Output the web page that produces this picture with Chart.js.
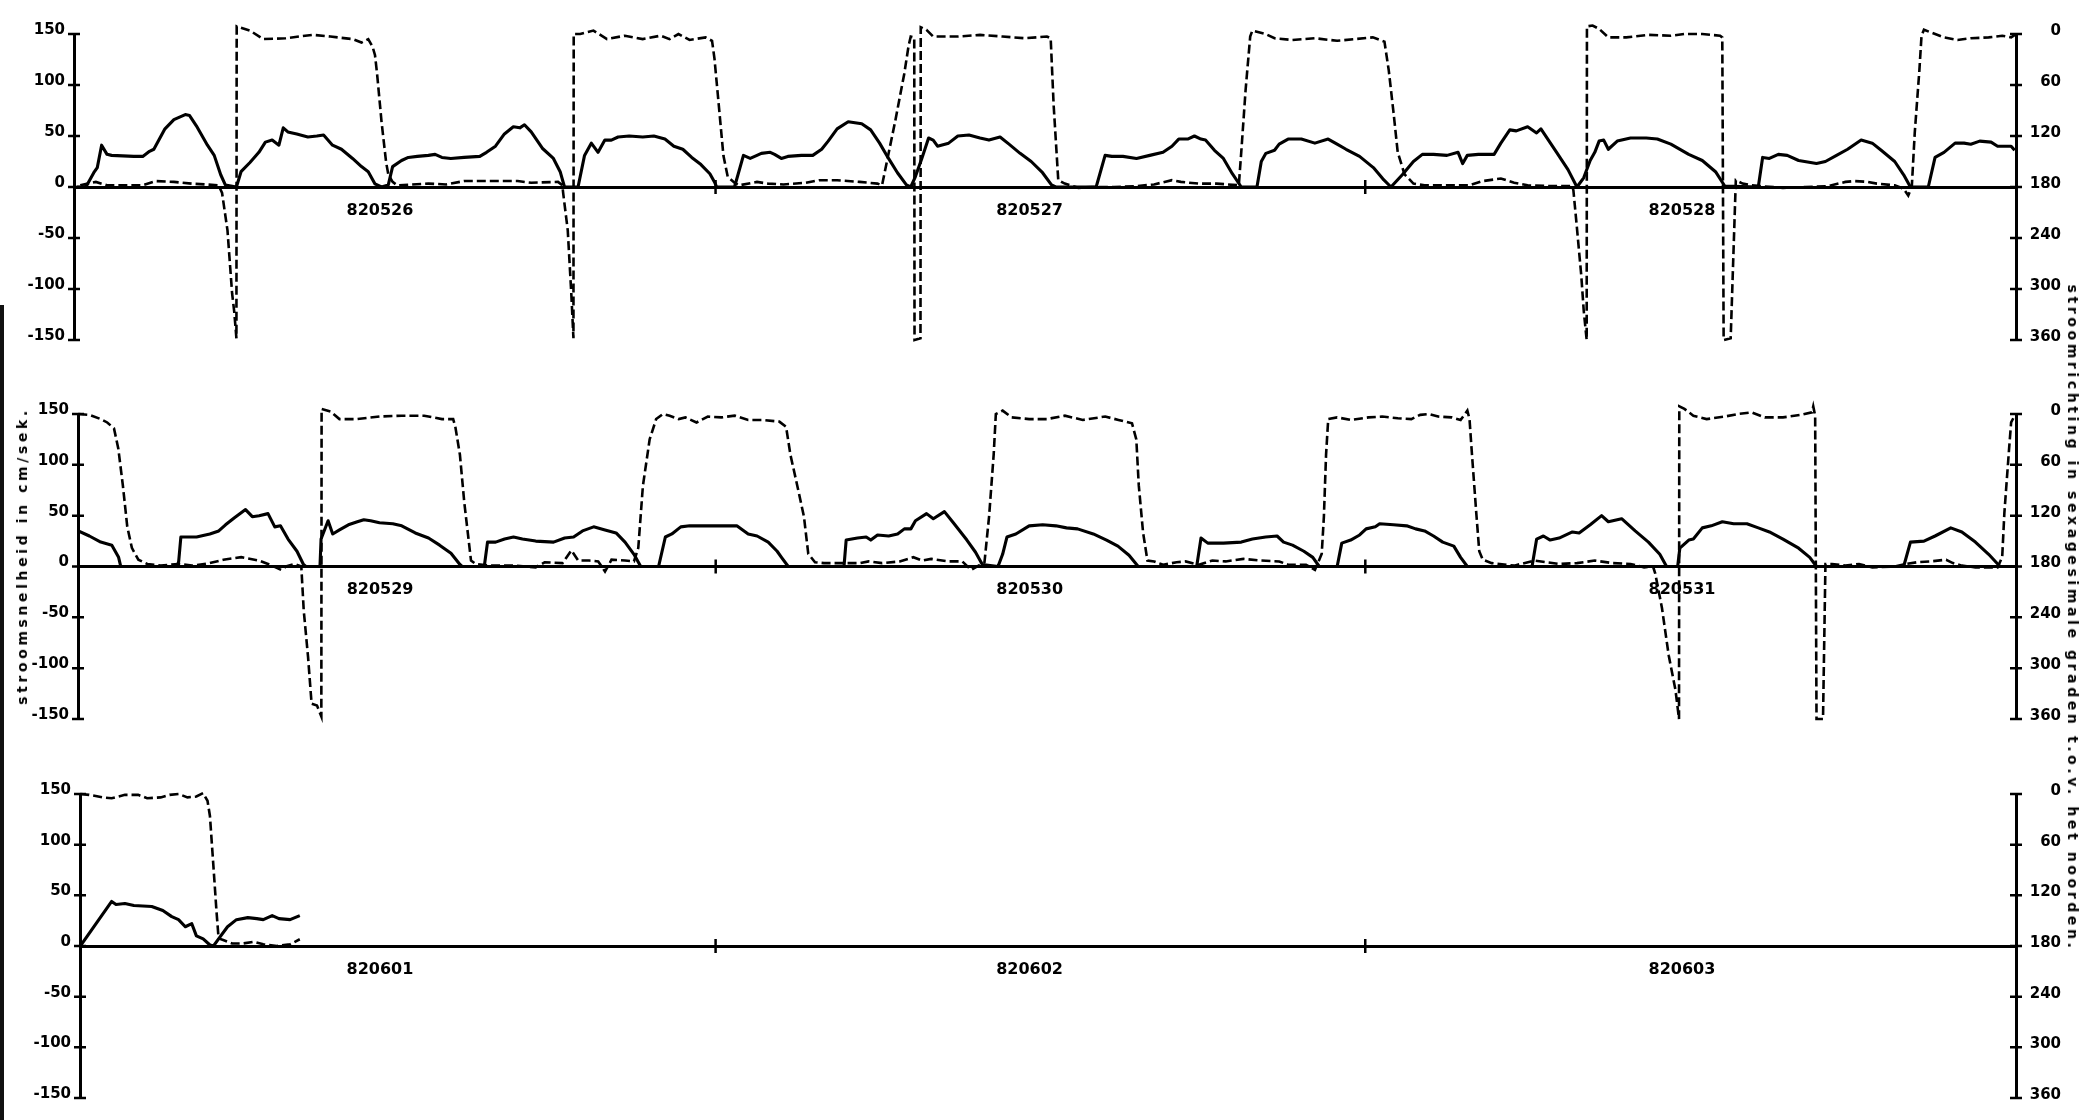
<!DOCTYPE html>
<html>
<head>
<meta charset="utf-8">
<title>stroomsnelheid en stroomrichting 820526 - 820603</title>
<script src="https://cdn.jsdelivr.net/npm/chart.js@4.4.1/dist/chart.umd.min.js"></script>
<style>
  html, body { margin: 0; padding: 0; background: #fff; }
  body { width: 2082px; height: 1120px; position: relative; overflow: hidden; }
  canvas { position: absolute; left: 0; }
  .title {
    position: absolute;
    font: bold 14px 'DejaVu Sans', sans-serif;
    letter-spacing: 3.6px;
    white-space: nowrap;
    color: #000;
  }
  .edge { position: absolute; left: 0; top: 305px; width: 4px; height: 815px; background: #111; }
</style>
</head>
<body>
<div class="edge"></div>
<canvas id="c1" width="2082" height="354" style="top:10px"></canvas>
<canvas id="c2" width="2082" height="353" style="top:390px"></canvas>
<canvas id="c3" width="2082" height="352" style="top:770px"></canvas>
<div class="title" style="left:22px; top:556px; transform: translate(-50%, -50%) rotate(-90deg);">stroomsnelheid in cm/sek.</div>
<div class="title" style="left:2073px; top:618px; transform: translate(-50%, -50%) rotate(90deg);">stroomrichting in sexagesimale graden t.o.v. het noorden.</div>
<script>
    // tijd in uren vanaf het begin van elke strook, snelheid in cm/sek, richting in graden
    const p1Days = ['820526', '820527', '820528'];
    const p2Days = ['820529', '820530', '820531'];
    const p3Days = ['820601', '820602', '820603'];
    const dayLabelHours = [11.6, 35.6, 59.7];
    const dayBreaks = [24, 48];
    const speedTicks = [-150, -100, -50, 0, 50, 100, 150];
    const dirTicks = [0, 60, 120, 180, 240, 300, 360];

    const p1Speed = [
        [0.40, 0], [0.70, 0], [0.78, 2], [1.03, 14], [1.16, 19], [1.32, 41], [1.52, 32], [1.69, 31], [2.51, 30], [2.84, 30],
        [3.09, 35], [3.25, 37], [3.66, 57], [3.99, 66], [4.41, 71], [4.57, 70], [4.82, 60], [5.23, 41], [5.48, 31], [5.72, 12],
        [5.89, 2], [6.30, 0], [6.47, 15], [6.80, 24], [7.13, 34], [7.37, 44], [7.62, 46], [7.87, 41], [8.03, 58], [8.20, 54],
        [8.53, 52], [8.94, 49], [9.27, 50], [9.52, 51], [9.85, 41], [10.18, 37], [10.59, 28], [10.92, 20], [11.17, 15], [11.42, 3],
        [11.66, 0], [11.91, 2], [12.07, 20], [12.40, 26], [12.65, 29], [12.98, 30], [13.39, 31], [13.64, 32], [13.89, 29], [14.22, 28],
        [14.71, 29], [15.29, 30], [15.54, 34], [15.87, 40], [16.20, 52], [16.53, 59], [16.77, 58], [16.94, 61], [17.19, 54], [17.60, 38],
        [18.01, 28], [18.26, 15], [18.42, 0], [18.92, 0], [19.16, 31], [19.41, 43], [19.66, 34], [19.91, 46], [20.15, 46], [20.40, 49],
        [20.81, 50], [21.31, 49], [21.72, 50], [22.13, 47], [22.46, 40], [22.79, 37], [23.12, 29], [23.46, 22], [23.79, 13], [23.96, 5],
        [24.04, 0], [24.70, 0], [25.03, 31], [25.28, 28], [25.53, 31], [25.69, 33], [26.02, 34], [26.18, 32], [26.43, 28], [26.67, 30],
        [27.17, 31], [27.59, 31], [27.92, 37], [28.16, 45], [28.49, 57], [28.90, 64], [29.40, 62], [29.73, 56], [30.06, 43], [30.39, 28],
        [30.72, 14], [31.05, 2], [31.21, 0], [31.38, 10], [31.62, 28], [31.87, 48], [32.04, 46], [32.20, 40], [32.61, 43], [32.95, 50],
        [33.36, 51], [33.77, 48], [34.10, 46], [34.51, 49], [34.84, 42], [35.25, 33], [35.66, 25], [36.08, 14], [36.41, 2], [36.57, 0],
        [38.06, 0], [38.39, 31], [38.64, 30], [39.05, 30], [39.55, 28], [40.04, 31], [40.53, 34], [40.86, 40], [41.11, 47], [41.44, 47],
        [41.69, 50], [41.93, 47], [42.10, 46], [42.43, 36], [42.76, 28], [43.09, 13], [43.42, 0], [44.00, 0], [44.16, 25], [44.33, 33],
        [44.65, 36], [44.82, 42], [45.15, 47], [45.64, 47], [46.14, 43], [46.63, 47], [46.96, 42], [47.29, 37], [47.79, 30], [48.30, 19],
        [48.65, 8], [48.95, 0], [49.37, 12], [49.78, 25], [50.11, 32], [50.52, 32], [51.02, 31], [51.43, 34], [51.60, 23], [51.77, 31],
        [52.18, 32], [52.76, 32], [53.01, 43], [53.34, 56], [53.58, 55], [54.00, 59], [54.33, 53], [54.49, 57], [55.07, 34], [55.49, 17],
        [55.82, 0], [56.07, 9], [56.31, 26], [56.48, 34], [56.64, 45], [56.81, 46], [56.98, 37], [57.31, 45], [57.80, 48], [58.38, 48],
        [58.79, 47], [59.29, 42], [59.95, 32], [60.45, 26], [60.94, 15], [61.28, 1], [62.52, 0], [62.68, 29], [62.93, 28], [63.26, 32],
        [63.59, 31], [64.01, 26], [64.67, 23], [65.00, 25], [65.41, 31], [65.82, 37], [66.32, 46], [66.73, 43], [67.06, 36], [67.56, 25],
        [67.89, 12], [68.14, 0], [68.80, 0], [69.05, 29], [69.38, 34], [69.79, 43], [70.12, 43], [70.37, 42], [70.70, 45], [71.12, 44],
        [71.36, 40], [71.86, 40], [71.99, 36]
    ];
    const p1Dir = [
        [0.53, 178], [1.11, 174], [1.52, 178], [2.84, 178], [3.33, 173], [3.99, 174], [4.65, 176], [5.64, 178], [5.77, 187], [5.97, 231],
        [6.14, 305], [6.22, 327], [6.30, 358], [6.31, -9], [6.80, -4], [7.29, 6], [8.12, 5], [9.11, 1], [9.77, 3], [10.59, 6],
        [10.92, 10], [11.17, 6], [11.33, 15], [11.42, 25], [11.50, 48], [11.66, 103], [11.83, 151], [11.91, 165], [12.07, 174], [12.24, 178],
        [13.39, 176], [14.05, 177], [14.71, 173], [15.70, 173], [16.69, 173], [17.19, 175], [18.18, 174], [18.34, 178], [18.37, 187], [18.54, 231],
        [18.67, 305], [18.75, 358], [18.76, 0], [19.00, 0], [19.49, -4], [19.99, 6], [20.65, 2], [21.31, 6], [21.97, 2], [22.30, 6],
        [22.63, 0], [23.04, 7], [23.63, 4], [23.87, 8], [23.96, 29], [24.12, 84], [24.29, 143], [24.45, 168], [24.70, 175], [24.87, 178],
        [25.53, 174], [25.94, 176], [26.51, 177], [27.34, 175], [27.83, 172], [28.49, 172], [29.32, 174], [29.98, 176], [30.15, 178], [30.64, 102],
        [30.97, 47], [31.13, 14], [31.21, 3], [31.34, 4], [31.35, 360], [31.57, 358], [31.58, -8], [31.79, -5], [32.04, 3], [32.95, 3],
        [33.77, 1], [34.60, 3], [35.42, 5], [36.24, 3], [36.38, 5], [36.49, 84], [36.66, 172], [36.90, 176], [37.40, 181], [37.89, 180],
        [38.72, 180], [39.54, 179], [40.20, 177], [40.86, 172], [41.19, 174], [41.85, 176], [42.51, 176], [43.33, 178], [43.42, 139], [43.58, 66],
        [43.75, 3], [43.83, -4], [44.32, 0], [44.65, 5], [45.31, 7], [46.14, 5], [46.96, 8], [47.62, 6], [48.28, 4], [48.71, 9],
        [48.87, 43], [49.04, 91], [49.20, 139], [49.45, 165], [49.78, 176], [50.19, 178], [51.02, 178], [51.85, 178], [52.34, 173], [53.01, 170],
        [53.50, 175], [54.00, 178], [54.83, 179], [55.65, 179], [55.69, 184], [55.82, 228], [55.98, 284], [56.07, 325], [56.18, 360], [56.19, -9],
        [56.40, -10], [56.64, -6], [56.98, 4], [57.64, 4], [58.46, 1], [59.29, 2], [59.79, 0], [60.45, 0], [61.11, 2], [61.19, 4],
        [61.24, 360], [61.50, 358], [61.69, 172], [61.94, 176], [62.27, 178], [62.60, 179], [63.43, 181], [64.25, 180], [65.08, 179], [65.74, 174],
        [66.07, 173], [66.57, 174], [66.90, 176], [67.56, 178], [67.89, 182], [68.06, 190], [68.19, 180], [68.30, 116], [68.47, 43], [68.55, 2],
        [68.64, -5], [68.88, -2], [69.38, 4], [69.88, 7], [70.37, 5], [71.03, 4], [71.53, 2], [71.86, 4], [72.00, 1]
    ];

    const p2Speed = [
        [0.45, 35], [0.86, 30], [1.28, 24], [1.69, 21], [1.94, 9], [2.02, 0], [4.10, 0], [4.16, 5], [4.24, 29], [4.82, 29],
        [5.31, 32], [5.64, 35], [5.89, 41], [6.22, 48], [6.63, 56], [6.88, 49], [7.13, 50], [7.46, 52], [7.71, 39], [7.92, 40],
        [8.20, 27], [8.53, 15], [8.77, 2], [8.86, 0], [9.38, 0], [9.42, 27], [9.68, 45], [9.85, 32], [10.10, 36], [10.43, 41],
        [10.76, 44], [11.00, 46], [11.25, 45], [11.58, 43], [12.07, 42], [12.40, 40], [12.90, 33], [13.39, 28], [13.80, 21], [14.22, 13],
        [14.55, 2], [14.63, 0], [15.45, 0], [15.57, 24], [15.87, 24], [16.20, 27], [16.53, 29], [16.86, 27], [17.35, 25], [18.01, 24],
        [18.42, 28], [18.75, 29], [19.08, 35], [19.49, 39], [19.91, 36], [20.32, 33], [20.65, 24], [20.98, 12], [21.23, 0], [21.89, 0],
        [22.14, 29], [22.38, 32], [22.71, 39], [23.04, 40], [23.42, 40], [24.78, 40], [25.20, 32], [25.53, 30], [25.94, 24], [26.27, 15],
        [26.43, 9], [26.68, 0], [28.74, 0], [28.82, 26], [29.24, 28], [29.56, 29], [29.73, 26], [29.98, 31], [30.39, 30], [30.72, 32],
        [30.97, 37], [31.21, 37], [31.38, 45], [31.79, 52], [32.04, 47], [32.45, 54], [32.78, 43], [33.28, 26], [33.60, 14], [33.85, 2],
        [34.43, 0], [34.60, 12], [34.76, 29], [35.09, 32], [35.58, 40], [36.08, 41], [36.57, 40], [36.96, 38], [37.37, 37], [37.95, 32],
        [38.44, 26], [38.86, 20], [39.27, 11], [39.61, 0], [41.77, 0], [41.93, 28], [42.18, 23], [42.76, 23], [43.42, 24], [43.83, 27],
        [44.32, 29], [44.74, 30], [44.98, 24], [45.31, 21], [45.73, 15], [46.06, 9], [46.30, 0], [46.96, 0], [47.13, 23], [47.46, 26],
        [47.79, 31], [48.03, 37], [48.37, 39], [48.53, 42], [49.04, 41], [49.53, 40], [49.86, 37], [50.19, 35], [50.52, 30], [50.86, 24],
        [51.27, 20], [51.52, 9], [51.77, 0], [54.16, 0], [54.33, 27], [54.58, 30], [54.83, 26], [55.16, 28], [55.65, 34], [55.90, 33],
        [56.31, 41], [56.73, 50], [56.98, 44], [57.47, 47], [57.97, 35], [58.46, 24], [58.88, 12], [59.13, 0], [59.54, 0], [59.62, 18],
        [59.95, 26], [60.12, 27], [60.45, 38], [60.78, 40], [61.19, 44], [61.61, 42], [62.10, 42], [62.52, 38], [62.93, 34], [63.43, 27],
        [64.01, 18], [64.42, 9], [64.67, 0], [67.89, 0], [68.14, 24], [68.64, 25], [69.05, 30], [69.63, 38], [70.04, 34], [70.54, 24],
        [71.03, 12], [71.45, 0], [72.00, 0]
    ];
    const p2Dir = [
        [0.45, 0], [0.86, 1], [1.28, 6], [1.52, 10], [1.77, 17], [1.93, 41], [2.10, 85], [2.26, 133], [2.43, 158], [2.67, 172],
        [3.00, 177], [3.50, 179], [4.16, 177], [4.65, 179], [5.31, 176], [5.81, 172], [6.47, 169], [7.13, 173], [7.46, 177], [7.95, 184],
        [8.12, 180], [8.45, 177], [8.69, 180], [8.78, 232], [8.94, 287], [9.07, 342], [9.27, 344], [9.43, 357], [9.44, -6], [9.77, -3],
        [10.10, 6], [10.76, 6], [11.58, 3], [12.40, 2], [13.23, 2], [13.89, 6], [14.30, 6], [14.38, 15], [14.55, 48], [14.71, 104],
        [14.88, 151], [14.96, 173], [15.13, 177], [15.70, 179], [16.53, 179], [17.35, 181], [17.68, 175], [18.34, 176], [18.67, 161], [18.92, 173],
        [19.33, 173], [19.66, 174], [19.91, 186], [20.15, 172], [20.65, 173], [20.98, 174], [21.14, 158], [21.31, 85], [21.56, 30], [21.80, 6],
        [22.05, 0], [22.30, 2], [22.63, 6], [22.88, 4], [23.29, 10], [23.71, 3], [24.21, 4], [24.70, 2], [25.20, 7], [25.69, 7],
        [26.35, 9], [26.60, 15], [26.76, 48], [27.01, 84], [27.26, 121], [27.42, 165], [27.67, 175], [28.00, 176], [28.66, 176], [29.32, 176],
        [29.65, 174], [30.15, 176], [30.80, 174], [31.30, 169], [31.62, 173], [31.96, 171], [32.61, 174], [33.11, 174], [33.44, 184], [33.77, 178],
        [33.93, 175], [34.10, 121], [34.27, 48], [34.35, 0], [34.60, -4], [34.93, 4], [35.58, 6], [36.24, 6], [36.90, 2], [37.56, 7],
        [38.39, 3], [38.88, 7], [39.38, 11], [39.54, 30], [39.63, 84], [39.79, 140], [39.95, 173], [40.20, 174], [40.53, 178], [41.03, 175],
        [41.36, 174], [41.85, 178], [42.35, 173], [42.84, 174], [43.50, 171], [44.16, 173], [44.82, 174], [45.15, 178], [45.81, 178], [46.14, 184],
        [46.22, 178], [46.39, 165], [46.47, 121], [46.55, 48], [46.63, 6], [46.96, 4], [47.46, 7], [48.12, 4], [48.62, 3], [49.20, 5],
        [49.70, 6], [50.03, 1], [50.36, 0], [50.69, 3], [51.19, 4], [51.52, 7], [51.77, -4], [51.85, 6], [51.93, 43], [52.10, 117],
        [52.21, 162], [52.34, 172], [52.67, 176], [53.50, 179], [54.25, 173], [55.16, 177], [55.82, 176], [56.48, 173], [57.14, 176], [57.80, 177],
        [58.30, 181], [58.63, 180], [58.71, 188], [58.96, 229], [59.21, 285], [59.46, 326], [59.59, 360], [59.60, -9], [59.79, -6], [60.12, 2],
        [60.61, 6], [61.28, 3], [61.77, 0], [62.27, -2], [62.76, 4], [63.43, 4], [64.09, 1], [64.50, -2], [64.55, -9], [64.62, 2],
        [64.67, 360], [64.91, 360], [65.00, 177], [65.24, 177], [65.74, 179], [66.24, 177], [66.73, 181], [67.56, 180], [67.97, 177], [68.39, 175],
        [68.88, 174], [69.46, 172], [69.71, 176], [70.04, 179], [70.54, 181], [71.03, 181], [71.36, 181], [71.53, 169], [71.61, 117], [71.78, 43],
        [71.86, 10], [71.94, 5]
    ];

    const p3Speed = [
        [0.53, 0], [1.69, 44], [1.85, 41], [2.18, 42], [2.51, 40], [3.17, 39], [3.58, 35], [3.91, 29], [4.16, 26], [4.41, 19],
        [4.65, 22], [4.82, 10], [5.07, 7], [5.32, 1], [5.45, 0], [5.64, 7], [5.97, 19], [6.30, 26], [6.72, 28], [7.05, 27],
        [7.29, 26], [7.62, 30], [7.87, 27], [8.28, 26], [8.64, 30]
    ];
    const p3Dir = [
        [0.53, 0], [0.86, 1], [1.36, 4], [1.69, 5], [2.18, 1], [2.67, 1], [3.00, 5], [3.50, 4], [3.83, 1], [4.16, 0],
        [4.49, 4], [4.82, 3], [5.07, -1], [5.23, 8], [5.32, 26], [5.45, 86], [5.56, 138], [5.64, 171], [5.81, 173], [6.14, 177],
        [6.55, 177], [6.96, 175], [7.29, 178], [7.79, 180], [8.28, 178], [8.64, 172]
    ];

    const fontFamily = "'DejaVu Sans', sans-serif";
    const ink = '#000';

    // kruisjes op de assen (zoals op de plotter-tekening)
    const crossTicks = {
        id: 'crossTicks',
        afterDraw(chart) {
            const { ctx, scales } = chart;
            ctx.save();
            ctx.strokeStyle = ink;
            ctx.lineWidth = 2.5;
            ctx.beginPath();
            scales.y.ticks.forEach((t, i) => {
                const py = scales.y.getPixelForTick(i);
                ctx.moveTo(scales.y.right - 6, py);
                ctx.lineTo(scales.y.right + 6, py);
            });
            scales.y2.ticks.forEach((t, i) => {
                const py = scales.y2.getPixelForTick(i);
                ctx.moveTo(scales.y2.left - 6, py);
                ctx.lineTo(scales.y2.left + 6, py);
            });
            const zy = scales.y.getPixelForValue(0);
            dayBreaks.forEach(h => {
                const px = scales.x.getPixelForValue(h);
                ctx.moveTo(px, zy - 7);
                ctx.lineTo(px, zy + 7);
            });
            ctx.stroke();
            ctx.restore();
        }
    };

    function drawPanel(canvasId, speed, dir, days, leftWidth, xMin) {
        new Chart(document.getElementById(canvasId), {
            type: 'line',
            data: {
                datasets: [
                    {
                        data: speed.map(([x, y]) => ({ x, y })),
                        yAxisID: 'y',
                        borderColor: ink,
                        borderWidth: 3.1,
                        borderJoinStyle: 'round',
                        pointRadius: 0,
                        tension: 0,
                    },
                    {
                        data: dir.map(([x, y]) => ({ x, y })),
                        yAxisID: 'y2',
                        borderColor: ink,
                        borderWidth: 2.6,
                        borderDash: [9, 4],
                        pointRadius: 0,
                        tension: 0,
                        clip: false,
                    }
                ]
            },
            options: {
                responsive: false,
                animation: false,
                events: [],
                layout: { padding: { top: 14, bottom: 14, left: 0, right: 21 } },
                plugins: { legend: { display: false }, tooltip: { enabled: false } },
                scales: {
                    x: {
                        type: 'linear', min: xMin, max: 72.04, position: { y: 0 },
                        afterBuildTicks: s => { s.ticks = dayLabelHours.map(v => ({ value: v })); },
                        ticks: {
                            callback: (v, i) => days[i], autoSkip: false, maxRotation: 0, padding: 14,
                            color: ink, font: { family: fontFamily, size: 16, weight: 'bold' }
                        },
                        grid: { display: false, drawTicks: false },
                        border: { color: ink, width: 3 }
                    },
                    y: {
                        position: 'left', min: -150, max: 150,
                        afterBuildTicks: s => { s.ticks = speedTicks.map(v => ({ value: v })); },
                        afterFit: s => { s.width = leftWidth; },
                        ticks: { padding: 9, labelOffset: -4, color: ink, font: { family: fontFamily, size: 15, weight: 'bold' } },
                        grid: { display: false, drawTicks: false },
                        border: { color: ink, width: 3 }
                    },
                    y2: {
                        position: 'right', min: 0, max: 360, reverse: true,
                        afterBuildTicks: s => { s.ticks = dirTicks.map(v => ({ value: v })); },
                        afterFit: s => { s.width = 45; },
                        ticks: { padding: 15, crossAlign: 'far', labelOffset: -3, color: ink, font: { family: fontFamily, size: 15, weight: 'bold' } },
                        grid: { display: false, drawTicks: false },
                        border: { color: ink, width: 3 }
                    }
                }
            },
            plugins: [crossTicks]
        });
    }

    drawPanel('c1', p1Speed, p1Dir, p1Days, 74, 0.30);
    drawPanel('c2', p2Speed, p2Dir, p2Days, 78, 0.44);
    drawPanel('c3', p3Speed, p3Dir, p3Days, 80, 0.52);
</script>
</body>
</html>
